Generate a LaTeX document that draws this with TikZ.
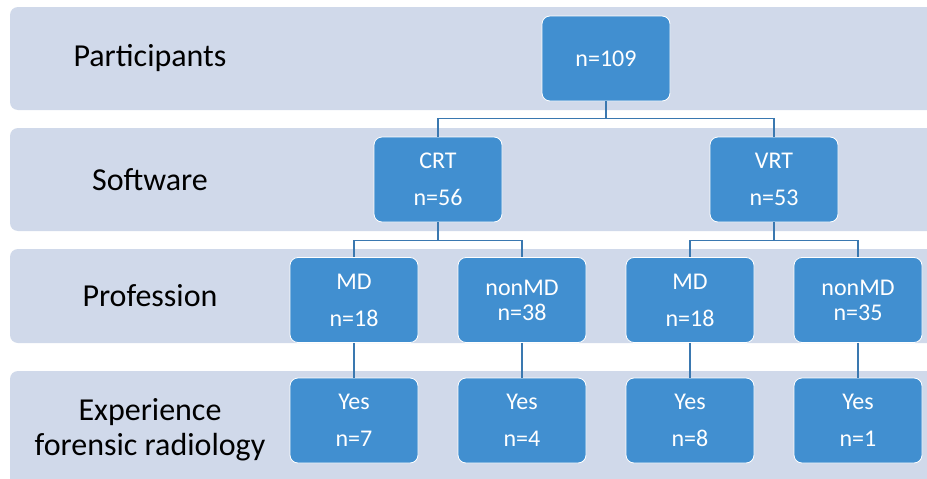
\documentclass[tikz,border=0pt]{standalone}
\usepackage{fontspec}
\setmainfont{Carlito}
\definecolor{bandgrey}{HTML}{D0D9EA}
\definecolor{boxblue}{HTML}{418FD0}
\definecolor{linkblue}{HTML}{3A78B0}
\tikzset{
  band/.style={fill=bandgrey, draw=none, rounded corners=8pt},
  rowlabel/.style={align=center, font=\fontsize{32}{35}\selectfont},
  box/.style={draw=white, line width=0.8pt, fill=boxblue, rounded corners=8pt,
    minimum width=128pt, minimum height=85pt, text=white, align=center,
    font=\fontsize{24}{37}\selectfont},
  tight/.style={font=\fontsize{24}{25}\selectfont},
  link/.style={draw=linkblue, line width=1.5pt}
}
\begin{document}
\begin{tikzpicture}[x=1pt,y=-1pt]
   \useasboundingbox (0,0) rectangle (927,479);
   \fill[white] (0,0) rectangle (927,479);

   % rows
   \path[band] (10,7) rectangle (940,110);
   \path[band] (10,128) rectangle (940,231);
   \path[band] (10,249) rectangle (940,343);
   \path[band] (10,371) rectangle (940,490);

   \node[rowlabel] (L1) at (150,58) {Participants};
   \node[rowlabel] (L2) at (150,180) {Software};
   \node[rowlabel] (L3) at (150,296) {Profession};
   \node[rowlabel] (L4) at (150,430) {Experience\\forensic radiology};

   % tree
   \node[box] (All) at (606,58.5) {n=109};
   \node[box] (CRT) at (438,179.5) {CRT\\n=56};
   \node[box] (VRT) at (774,179.5) {VRT\\n=53};
   \node[box] (CMD) at (354,300) {MD\\n=18};
   \node[box,tight] (CnonMD) at (522,300) {nonMD\\n=38};
   \node[box] (VMD) at (690,300) {MD\\n=18};
   \node[box,tight] (VnonMD) at (858,300) {nonMD\\n=35};
   \node[box] (CMDyes) at (354,420.5) {Yes\\n=7};
   \node[box] (CnonMDyes) at (522,420.5) {Yes\\n=4};
   \node[box] (VMDyes) at (690,420.5) {Yes\\n=8};
   \node[box] (VnonMDyes) at (858,420.5) {Yes\\n=1};

   \draw[link] (All.south) -- ++(0,17) -| (CRT.north);
   \draw[link] (All.south) -- ++(0,17) -| (VRT.north);
   \draw[link] (CRT.south) -- ++(0,18) -| (CMD.north);
   \draw[link] (CRT.south) -- ++(0,18) -| (CnonMD.north);
   \draw[link] (VRT.south) -- ++(0,18) -| (VMD.north);
   \draw[link] (VRT.south) -- ++(0,18) -| (VnonMD.north);
   \draw[link] (CMD) -- (CMDyes);
   \draw[link] (CnonMD) -- (CnonMDyes);
   \draw[link] (VMD) -- (VMDyes);
   \draw[link] (VnonMD) -- (VnonMDyes);
\end{tikzpicture}
\end{document}
